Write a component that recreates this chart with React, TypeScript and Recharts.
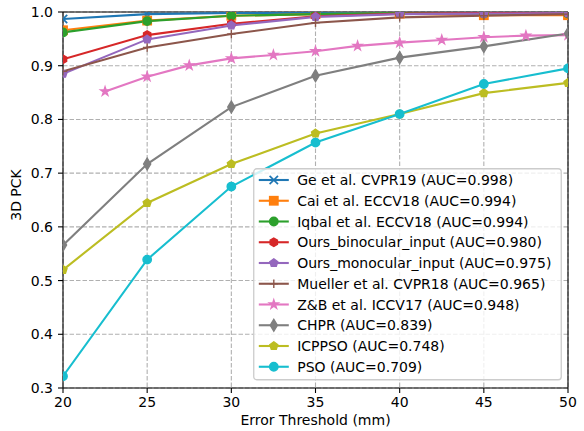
import React from 'react';
import * as R from 'recharts';
import { LineChart, Line, XAxis, YAxis, CartesianGrid, Legend, ReferenceLine, Label } from 'recharts';

const thresholds = [20, 25, 30, 35, 40, 45, 50];
const zbThresholds = [22.5, 25, 27.5, 30, 32.5, 35, 37.5, 40, 42.5, 45, 47.5, 50];
const xTicks = [20, 25, 30, 35, 40, 45, 50];
const yTicks = [0.3, 0.4, 0.5, 0.6, 0.7, 0.8, 0.9, 1.0];

const geValues = [0.987, 0.996, 0.998, 0.998, 0.999, 0.999, 0.999];
const caiValues = [0.966, 0.984, 0.993, 0.996, 0.997, 0.994, 0.994];
const iqbalValues = [0.962, 0.983, 0.993, 0.996, 0.998, 0.997, 0.997];
const binocularValues = [0.912, 0.957, 0.978, 0.992, 0.997, 0.998, 0.998];
const monocularValues = [0.885, 0.949, 0.975, 0.991, 0.996, 0.997, 0.998];
const muellerValues = [0.8895, 0.934, 0.959, 0.98, 0.99, 0.993, 0.996];
const zbValues = [0.852, 0.8796, 0.9006, 0.9136, 0.92, 0.927, 0.937, 0.943, 0.948, 0.953, 0.956, 0.957];
const chprValues = [0.566, 0.717, 0.823, 0.8815, 0.915, 0.936, 0.96];
const icppsoValues = [0.52, 0.6445, 0.717, 0.774, 0.81, 0.849, 0.868];
const psoValues = [0.322, 0.539, 0.675, 0.757, 0.81, 0.866, 0.895];

const seriesNames = [
  'Ge et al. CVPR19 (AUC=0.998)',
  'Cai et al. ECCV18 (AUC=0.994)',
  'Iqbal et al. ECCV18 (AUC=0.994)',
  'Ours_binocular_input (AUC=0.980)',
  'Ours_monocular_input (AUC=0.975)',
  'Mueller et al. CVPR18 (AUC=0.965)',
  'Z&B et al. ICCV17 (AUC=0.948)',
  'CHPR (AUC=0.839)',
  'ICPPSO (AUC=0.748)',
  'PSO (AUC=0.709)',
];

type Kind = 'x' | 's' | 'o' | 'h' | 'p' | '+' | '*' | 'd';

const seriesDefs: { xs: number[]; ys: number[]; color: string; kind: Kind }[] = [
  { xs: thresholds, ys: geValues, color: '#1f77b4', kind: 'x' },
  { xs: thresholds, ys: caiValues, color: '#ff7f0e', kind: 's' },
  { xs: thresholds, ys: iqbalValues, color: '#2ca02c', kind: 'o' },
  { xs: thresholds, ys: binocularValues, color: '#d62728', kind: 'h' },
  { xs: thresholds, ys: monocularValues, color: '#9467bd', kind: 'p' },
  { xs: thresholds, ys: muellerValues, color: '#8c564b', kind: '+' },
  { xs: zbThresholds, ys: zbValues, color: '#e377c2', kind: '*' },
  { xs: thresholds, ys: chprValues, color: '#7f7f7f', kind: 'd' },
  { xs: thresholds, ys: icppsoValues, color: '#bcbd22', kind: 'p' },
  { xs: thresholds, ys: psoValues, color: '#17becf', kind: 'o' },
];

const MS = 8.4;
const EW = 1.4;
const LW = 2.1;

function polyPoints(cx: number, cy: number, n: number, r: number) {
  const pts: string[] = [];
  for (let k = 0; k < n; k++) {
    const a = (-90 + (k * 360) / n) * (Math.PI / 180);
    pts.push(`${cx + r * Math.cos(a)},${cy + r * Math.sin(a)}`);
  }
  return pts.join(' ');
}

function starPoints(cx: number, cy: number, r: number) {
  const inner = r * 0.381966;
  const pts: string[] = [];
  for (let k = 0; k < 10; k++) {
    const a = (-90 + k * 36) * (Math.PI / 180);
    const rr = k % 2 === 0 ? r : inner;
    pts.push(`${cx + rr * Math.cos(a)},${cy + rr * Math.sin(a)}`);
  }
  return pts.join(' ');
}

function MarkerShape({ kind, cx, cy, color }: { kind: Kind; cx: number; cy: number; color: string }) {
  const h = MS / 2;
  const common = { fill: color, stroke: color, strokeWidth: EW, strokeLinejoin: 'miter' as const };
  switch (kind) {
    case 'x':
      return (
        <g stroke={color} strokeWidth={1.7}>
          <line x1={cx - h} y1={cy - h} x2={cx + h} y2={cy + h} />
          <line x1={cx - h} y1={cy + h} x2={cx + h} y2={cy - h} />
        </g>
      );
    case '+':
      return (
        <g stroke={color} strokeWidth={1.4}>
          <line x1={cx - h} y1={cy} x2={cx + h} y2={cy} />
          <line x1={cx} y1={cy - h} x2={cx} y2={cy + h} />
        </g>
      );
    case 's':
      return <rect x={cx - h} y={cy - h} width={MS} height={MS} {...common} />;
    case 'o':
      return <circle cx={cx} cy={cy} r={h} {...common} />;
    case 'h':
      return <polygon points={polyPoints(cx, cy, 6, h)} {...common} />;
    case 'p':
      return <polygon points={polyPoints(cx, cy, 5, h)} {...common} />;
    case '*':
      return <polygon points={starPoints(cx, cy, h * 1.1)} {...common} />;
    case 'd': {
      const vy = MS * 0.7071;
      const vx = vy * 0.6;
      return <polygon points={`${cx},${cy - vy} ${cx + vx},${cy} ${cx},${cy + vy} ${cx - vx},${cy}`} {...common} />;
    }
  }
  return null;
}

const usePlotAreaSafe: () => any = (R as any).usePlotArea ?? (() => null);

function PlotClip() {
  const area = usePlotAreaSafe();
  const a = area ?? { x: 63, y: 12, width: 505, height: 376 };
  return (
    <defs>
      <clipPath id="exactPlotClip">
        <rect x={a.x} y={a.y} width={a.width} height={a.height} />
      </clipPath>
    </defs>
  );
}

const FONT = '"DejaVu Sans", sans-serif';
const FS = 14;

function LegendBox() {
  const w = 309;
  const rowH = 20.75;
  const hgt = 212.5;
  return (
    <svg width={w + 1} height={hgt + 1} style={{ display: 'block', fontFamily: FONT }}>
      <rect x={0.75} y={0.75} width={w - 1.5} height={hgt - 1.5} rx={3} ry={3} fill="#ffffff" fillOpacity={0.8} stroke="#cccccc" strokeWidth={1.3} />
      {seriesDefs.map((s, i) => {
        const cy = 12 + i * rowH;
        return (
          <g key={i}>
            <line x1={5.8} y1={cy} x2={35.8} y2={cy} stroke={s.color} strokeWidth={LW} />
            <MarkerShape kind={s.kind} cx={20.8} cy={cy} color={s.color} />
            <text x={44.2} y={cy} dy="0.36em" fontSize={FS} fill="#000">
              {seriesNames[i]}
            </text>
          </g>
        );
      })}
    </svg>
  );
}

export default function App() {
  return (
    <div style={{ width: 584, height: 431, background: '#fff' }}>
      <style>{`body{margin:0;background:#fff}`}</style>
      <LineChart width={584} height={431} margin={{ top: 12, right: 16, bottom: 0, left: 0 }} style={{ fontFamily: FONT }}>
        <PlotClip />
        <CartesianGrid stroke="#b0b0b0" strokeWidth={1.1} strokeDasharray="4.5 2" />
        <XAxis
          type="number"
          dataKey="x"
          domain={[20, 50]}
          ticks={xTicks}
          allowDataOverflow
          height={43}
          tickSize={5}
          tickMargin={4}
          tick={{ fill: '#000', fontSize: FS }}
          tickLine={{ stroke: '#000', strokeWidth: 1.1 }}
          axisLine={{ stroke: '#000', strokeWidth: 1.1 }}
        >
          <Label value="Error Threshold (mm)" position="insideBottom" offset={6} fill="#000" fontSize={FS} />
        </XAxis>
        <YAxis
          type="number"
          dataKey="y"
          domain={[0.3, 1.0]}
          ticks={yTicks}
          allowDataOverflow
          width={63}
          tickSize={5}
          tickMargin={5}
          tickFormatter={(v: number) => v.toFixed(1)}
          tick={{ fill: '#000', fontSize: FS }}
          tickLine={{ stroke: '#000', strokeWidth: 1.1 }}
          axisLine={{ stroke: '#000', strokeWidth: 1.1 }}
        >
          <Label
            content={() => (
              <text x={21} y={195} transform="rotate(-90 21 195)" textAnchor="middle" fontSize={FS} fill="#000" fontFamily={FONT}>
                3D PCK
              </text>
            )}
          />
        </YAxis>
        <ReferenceLine y={1.0} stroke="#000" strokeWidth={1.1} />
        <ReferenceLine x={50} stroke="#000" strokeWidth={1.1} />
        {seriesDefs.map((s, i) => (
          <Line
            key={i}
            name={seriesNames[i]}
            data={s.xs.map((x, j) => ({ x, y: s.ys[j] }))}
            dataKey="y"
            type="linear"
            stroke={s.color}
            strokeWidth={LW}
            isAnimationActive={false}
            dot={(p: any) => (
              <g key={`m-${i}-${p.index}`} clipPath="url(#exactPlotClip)">
                <MarkerShape kind={s.kind} cx={p.cx} cy={p.cy} color={s.color} />
              </g>
            )}
            activeDot={false}
          />
        ))}
        <Legend
          layout="vertical"
          align="center"
          verticalAlign="middle"
          wrapperStyle={{ left: 252.5, top: 168, width: 310, height: 214 }}
          content={() => <LegendBox />}
        />
      </LineChart>
    </div>
  );
}
